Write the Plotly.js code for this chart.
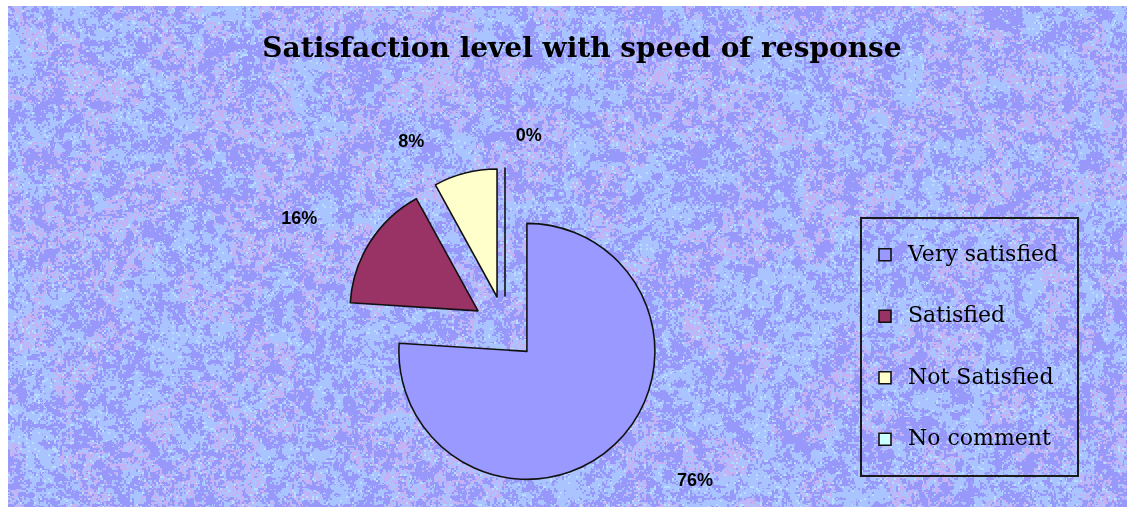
<!DOCTYPE html>
<html>
<head>
<meta charset="utf-8">
<script src="https://cdn.plot.ly/plotly-3.0.1.min.js"></script>
<style>
  html, body { margin: 0; padding: 0; background: #ffffff; width: 1127px; height: 507px; overflow: hidden; }
  #bg { position: absolute; left: 8px; top: 6px; width: 1119px; height: 501px; }
  #chart { position: absolute; left: 0; top: 0; width: 1127px; height: 507px; }
</style>
</head>
<body>
<canvas id="bg" width="1119" height="501"></canvas>
<div id="chart"></div>
<script>
// ---- data ----
const categories = ['Very satisfied', 'Satisfied', 'Not Satisfied', 'No comment'];
const percentValues = [76, 16, 8, 0];
const sliceColors = ['#9999ff', '#993366', '#ffffcc', '#ccffff'];
const chartTitle = 'Satisfaction level with speed of response';

// ---- decorative textured background (deterministic hash noise) ----
(function drawTexture() {
  const cv = document.getElementById('bg');
  const ctx = cv.getContext('2d');
  const W = cv.width, H = cv.height;
  function hash(x, y, s) {
    let n = Math.imul(x, 374761393) ^ Math.imul(y, 668265263) ^ Math.imul(s, 2246822519);
    n = Math.imul(n ^ (n >>> 13), 1274126177);
    n = n ^ (n >>> 16);
    return (n >>> 0) / 4294967296;
  }
  function vnoise(x, y, cell, s) {
    const gx = Math.floor(x / cell), gy = Math.floor(y / cell);
    const fx = x / cell - gx, fy = y / cell - gy;
    const sx = fx * fx * (3 - 2 * fx), sy = fy * fy * (3 - 2 * fy);
    const a = hash(gx, gy, s), b = hash(gx + 1, gy, s), c = hash(gx, gy + 1, s), d = hash(gx + 1, gy + 1, s);
    return (a * (1 - sx) + b * sx) * (1 - sy) + (c * (1 - sx) + d * sx) * sy;
  }
  const img = ctx.createImageData(W, H);
  const dark = [152, 152, 250], light = [170, 196, 255], pink = [196, 178, 244], cyan = [186, 222, 255];
  for (let y = 0; y < H; y++) {
    for (let x = 0; x < W; x++) {
      const cx = x >> 1, cy = y >> 1;
      const low = vnoise(x, y, 10, 1) * 0.5 + vnoise(x, y, 4, 2) * 0.5;
      const pk = vnoise(x, y, 30, 3);
      const r1 = hash(cx, cy, 4);
      const r2 = hash(cx, cy, 5);
      const t = low * 0.7 + r1 * 0.3;
      let col;
      if (t < 0.47) col = dark;
      else if (r2 > 0.93) col = cyan;
      else if (pk > 0.5 && r2 > 0.45) col = pink;
      else col = light;
      const i = (y * W + x) * 4;
      img.data[i] = col[0]; img.data[i + 1] = col[1]; img.data[i + 2] = col[2]; img.data[i + 3] = 255;
    }
  }
  ctx.putImageData(img, 0, 0);
})();

// ---- legend labels: pad entries vertically so rows are spaced like the original ----
const legendLabels = categories.map(function (c, i) {
  const top = i === 0 ? '\u00a0'.repeat(34) : '\u00a0';
  return top + '<br><span style="font-size:22px">' + c + '</span><br>\u00a0';
});

// ---- outside label padding so labels sit a little away from the slices ----
const nb = function (n) { return '\u00a0'.repeat(n); };
const labelTemplates = [
  '\u00a0<br>\u00a0<br>' + nb(8) + '%{percent}<br>\u00a0',
  '\u00a0<br>%{percent}' + nb(6) + '<br>\u00a0<br>\u00a0',
  '%{percent}' + nb(6) + '<br>\u00a0',
  '%{percent}<br>\u00a0'
];

const W = 1127, H = 507;
const trace = {
  type: 'pie',
  labels: legendLabels,
  values: percentValues,
  sort: false,
  direction: 'clockwise',
  rotation: 0,
  pull: 0.25,
  marker: { colors: sliceColors, line: { color: '#111111', width: 1.6 } },
  texttemplate: labelTemplates,
  textposition: 'outside',
  textfont: { family: 'Liberation Sans, Arial, sans-serif', size: 18, color: '#000000', weight: 'bold' },
  hoverinfo: 'skip',
  domain: { x: [345 / W, 665 / W], y: [19 / H, 339 / H] }
};

const layout = {
  width: W, height: H,
  margin: { l: 0, r: 0, t: 0, b: 0 },
  paper_bgcolor: 'rgba(0,0,0,0)',
  plot_bgcolor: 'rgba(0,0,0,0)',
  title: {
    text: chartTitle,
    x: 582 / W, xanchor: 'center', xref: 'paper',
    y: 1 - 47 / H, yanchor: 'middle', yref: 'container',
    font: { family: 'DejaVu Serif, serif', size: 28, color: '#000000', weight: 'bold' }
  },
  showlegend: true,
  legend: {
    x: 860 / W, xanchor: 'left',
    y: 1 - 217 / H, yanchor: 'top',
    bgcolor: 'rgba(0,0,0,0)',
    bordercolor: '#1a1a1a', borderwidth: 2,
    font: { family: 'DejaVu Serif, serif', size: 15, color: '#000000' },
    itemwidth: 36,
    traceorder: 'normal'
  }
};

Plotly.newPlot('chart', [trace], layout, { displayModeBar: false, staticPlot: true });
</script>
</body>
</html>
